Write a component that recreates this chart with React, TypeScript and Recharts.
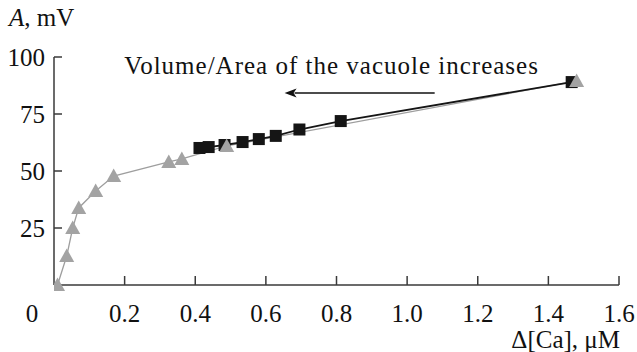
import React from "react";
import { LineChart, Line, XAxis, YAxis, ReferenceLine } from "recharts";

const triangleX = [0.01, 0.036, 0.053, 0.07, 0.118, 0.169, 0.325, 0.362, 0.489, 1.48];
const triangleY = [0, 12.7, 25, 33.8, 41.2, 47.8, 54, 55.3, 61, 89.5];
const squareX = [0.412, 0.438, 0.483, 0.534, 0.58, 0.628, 0.695, 0.812, 1.466];
const squareY = [60.1, 60.5, 61.4, 62.7, 64.0, 65.4, 68.2, 71.9, 89.0];
const xTicks = [0, 0.2, 0.4, 0.6, 0.8, 1.0, 1.2, 1.4, 1.6];
const yTicks = [25, 50, 75, 100];
const arrowFrom = { x: 1.078, y: 84.2 };
const arrowTo = { x: 0.653, y: 84.2 };
const annotation = "Volume/Area of the vacuole increases";

const triangles = triangleX.map((x, i) => ({ x, y: triangleY[i] }));
const squares = squareX.map((x, i) => ({ x, y: squareY[i] }));

const FONT = "'Liberation Serif', 'Times New Roman', serif";
const FS = 25;
const AXIS = "#3a3a3a";
const GRAY = "#9e9e9e";

const XTick = (props: any) => {
  const { x, y, payload } = props;
  const v = payload.value;
  const label = v === 0 ? "0" : v.toFixed(1);
  return (
    <g>
      {v !== 0 && <line x1={x} y1={y} x2={x} y2={y - 9} stroke={AXIS} strokeWidth={1.5} />}
      <text x={v === 0 ? x - 22 : x} y={y + 37} textAnchor="middle" fontFamily={FONT} fontSize={FS} fill="#111">
        {label}
      </text>
    </g>
  );
};

const YTick = (props: any) => {
  const { x, y, payload } = props;
  return (
    <g>
      <line x1={x} y1={y} x2={x + 8} y2={y} stroke={AXIS} strokeWidth={1.5} />
      <text x={x - 9} y={y + 8.5} textAnchor="end" fontFamily={FONT} fontSize={FS} fill="#111">
        {payload.value}
      </text>
    </g>
  );
};

const Triangle = (props: any) => {
  const { cx, cy, index } = props;
  if (cx == null || cy == null) return <g key={"t" + index} />;
  const s = 7.5;
  return (
    <polygon
      key={"t" + index}
      points={`${cx},${cy - s} ${cx + s},${cy + s * 0.8} ${cx - s},${cy + s * 0.8}`}
      fill="#a3a3a3"
      stroke="none"
    />
  );
};

const Square = (props: any) => {
  const { cx, cy, index } = props;
  if (cx == null || cy == null) return <g key={"s" + index} />;
  const s = 6;
  return <rect key={"s" + index} x={cx - s} y={cy - s} width={2 * s} height={2 * s} fill="#151515" />;
};

const ArrowShape = (props: any) => {
  const { x1, y1, x2, y2 } = props;
  if (x1 == null) return null;
  const ah = 12;
  return (
    <g>
      <line x1={x1} y1={y1} x2={x2 + ah - 2} y2={y2} stroke="#111" strokeWidth={1.5} />
      <polygon points={`${x2},${y2} ${x2 + ah},${y2 - 4.5} ${x2 + ah - 3},${y2} ${x2 + ah},${y2 + 4.5}`} fill="#111" />
      <text
        x={(x1 + x2) / 2 - 28}
        y={y1 - 19}
        textAnchor="middle"
        fontFamily={FONT}
        fontSize={FS}
        letterSpacing={1}
        fill="#111"
      >
        {annotation}
      </text>
    </g>
  );
};

export default function App() {
  return (
    <div style={{ position: "absolute", left: 0, top: 0, width: 637, height: 352, background: "#fff" }}>
      <LineChart width={637} height={352} margin={{ top: 57, right: 18, bottom: 0, left: 0 }}>
        <XAxis
          type="number"
          dataKey="x"
          domain={[0, 1.6]}
          ticks={xTicks}
          tick={<XTick />}
          tickLine={false}
          tickSize={0}
          tickMargin={0}
          height={67}
          axisLine={{ stroke: AXIS, strokeWidth: 1.5 }}
          allowDataOverflow
          label={{
            content: () => (
              <text x={620} y={348} textAnchor="end" fontFamily={FONT} fontSize={FS} fill="#111">
                Δ[Ca], μM
              </text>
            ),
          }}
        />
        <YAxis
          type="number"
          dataKey="y"
          domain={[0, 100]}
          ticks={yTicks}
          tick={<YTick />}
          tickLine={false}
          tickSize={0}
          tickMargin={0}
          width={54}
          axisLine={{ stroke: AXIS, strokeWidth: 1.5 }}
          label={{
            content: () => (
              <text x={9} y={26} fontFamily={FONT} fontSize={FS} fill="#111">
                <tspan fontStyle="italic">A</tspan>, mV
              </text>
            ),
          }}
        />
        <ReferenceLine
          segment={[arrowFrom, arrowTo]}
          shape={<ArrowShape />}
          ifOverflow="visible"
        />
        <Line data={triangles} dataKey="y" stroke={GRAY} strokeWidth={1.3} dot={false} isAnimationActive={false} />
        <Line data={squares} dataKey="y" stroke="#151515" strokeWidth={1.8} dot={<Square />} isAnimationActive={false} />
        <Line data={triangles} dataKey="y" stroke="none" dot={<Triangle />} isAnimationActive={false} />
      </LineChart>
    </div>
  );
}
